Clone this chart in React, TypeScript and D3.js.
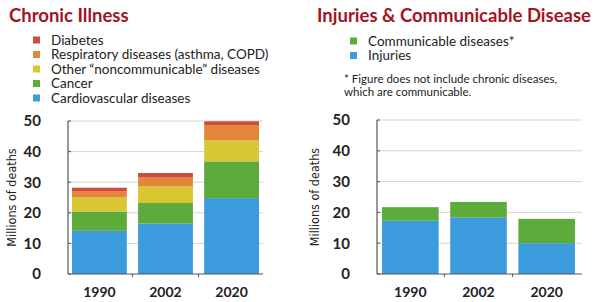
import React from "react";
import * as d3 from "d3";

const years = ["1990", "2002", "2020"];
const yTicks = [0, 10, 20, 30, 40, 50];

// chronic illness (millions of deaths)
const cardiovascular = [14.1, 16.5, 24.8];
const cancer = [6.3, 6.7, 12.0];
const otherNoncommunicable = [4.6, 5.4, 6.9];
const respiratory = [2.1, 2.9, 5.0];
const diabetes = [1.1, 1.5, 1.2];

// injuries & communicable disease
const injuries = [17.3, 18.3, 10.0];
const communicable = [4.4, 5.1, 7.9];

const chronicLabels = [
  "Cardiovascular diseases",
  "Cancer",
  "Other \u201cnoncommunicable\u201d diseases",
  "Respiratory diseases (asthma, COPD)",
  "Diabetes",
];
const injuryLabels = ["Injuries", "Communicable diseases*"];

const BLUE = "#3b9bdc";
const GREEN = "#5dab3b";
const YELLOW = "#d8c632";
const ORANGE = "#e2873a";
const RED = "#d04a40";
const TITLE = "#a3141f";
const FONT = "Lato, 'Open Sans', sans-serif";

type Series = { name: string; values: number[]; color: string };

function Panel(props: {
  series: Series[];
  axisX: number;
  gridEnd: number;
  barRange: [number, number];
  top: number;
  bottom: number;
  titleX: number;
}) {
  const { series, axisX, gridEnd, barRange, top, bottom, titleX } = props;
  const y = d3.scaleLinear().domain([0, 50]).range([bottom, top]);
  const x = d3.scaleBand().domain(years).range(barRange).paddingInner(0.17).paddingOuter(0.03);

  const rows = years.map((yr, i) => {
    const r: any = { year: yr };
    series.forEach((s) => (r[s.name] = s.values[i]));
    return r;
  });
  const stacked = d3.stack<any>().keys(series.map((s) => s.name))(rows);

  return (
    <g>
      {yTicks.map((t) => (
        <g key={t}>
          {t > 0 && (
            <line x1={axisX} x2={gridEnd} y1={y(t)} y2={y(t)} stroke="#d4d4d4" strokeWidth={1} />
          )}
          <line x1={axisX} x2={axisX + 3} y1={y(t)} y2={y(t)} stroke="#555" strokeWidth={1} />
          <text
            x={axisX - 27}
            y={y(t)}
            dy="0.36em"
            textAnchor="end"
            fontFamily={FONT}
            fontWeight={700}
            fontSize={15}
            fill="#222"
          >
            {t}
          </text>
        </g>
      ))}
      {stacked.map((layer, li) => (
        <g key={layer.key} fill={series[li].color}>
          {layer.map((d, i) => (
            <rect
              key={i}
              x={x(years[i])}
              width={x.bandwidth()}
              y={y(d[1])}
              height={y(d[0]) - y(d[1])}
            />
          ))}
        </g>
      ))}
      <line x1={axisX} x2={axisX} y1={y(50)} y2={bottom} stroke="#555" strokeWidth={1.2} />
      <line x1={axisX} x2={gridEnd} y1={bottom} y2={bottom} stroke="#555" strokeWidth={1.2} />
      {years.slice(1).map((yr) => (
        <line
          key={yr}
          x1={(x(yr) as number) - (x.step() - x.bandwidth()) / 2}
          x2={(x(yr) as number) - (x.step() - x.bandwidth()) / 2}
          y1={bottom}
          y2={bottom + 3}
          stroke="#555"
        />
      ))}
      {years.map((yr) => (
        <text
          key={yr}
          x={(x(yr) as number) + x.bandwidth() / 2}
          y={297}
          textAnchor="middle"
          fontFamily={FONT}
          fontWeight={700}
          fontSize={14}
          fill="#222"
        >
          {yr}
        </text>
      ))}
      <text
        transform={`translate(${titleX},${(y(50) + bottom) / 2}) rotate(-90)`}
        textAnchor="middle"
        fontFamily="'DejaVu Sans Condensed', 'Liberation Sans Narrow', sans-serif"
        fontSize={12.5}
        fill="#222"
      >
        Millions of deaths
      </text>
    </g>
  );
}

function Legend(props: { x: number; y: number; items: { label: string; color: string }[] }) {
  return (
    <g>
      {props.items.map((it, i) => (
        <g key={it.label} transform={`translate(${props.x},${props.y + i * 14.5})`}>
          <rect x={0} y={-3.5} width={7} height={7} fill={it.color} />
          <text x={18} y={0} dy="0.35em" fontFamily={FONT} fontSize={13.5} fill="#222">
            {it.label}
          </text>
        </g>
      ))}
    </g>
  );
}

export default function App() {
  const chronic: Series[] = [
    { name: chronicLabels[0], values: cardiovascular, color: BLUE },
    { name: chronicLabels[1], values: cancer, color: GREEN },
    { name: chronicLabels[2], values: otherNoncommunicable, color: YELLOW },
    { name: chronicLabels[3], values: respiratory, color: ORANGE },
    { name: chronicLabels[4], values: diabetes, color: RED },
  ];
  const inj: Series[] = [
    { name: injuryLabels[0], values: injuries, color: BLUE },
    { name: injuryLabels[1], values: communicable, color: GREEN },
  ];

  return (
    <svg
      width={601}
      height={302}
      style={{ position: "absolute", left: 0, top: 0, background: "#fff" }}
    >
      <text x={9} y={22} fontFamily={FONT} fontWeight={700} fontSize={18.5} fill={TITLE}>
        Chronic Illness
      </text>
      <text x={317} y={22} fontFamily={FONT} fontWeight={700} fontSize={18.5} fill={TITLE}>
        Injuries &amp; Communicable Disease
      </text>

      <Legend x={33} y={40} items={[...chronic].reverse().map((s) => ({ label: s.name, color: s.color }))} />
      <Legend x={350} y={41} items={[...inj].reverse().map((s) => ({ label: s.name, color: s.color }))} />
      <text fontFamily={FONT} fontSize={11.5} fill="#222">
        <tspan x={344} y={83}>* Figure does not include chronic diseases,</tspan>
        <tspan x={344} y={96}>which are communicable.</tspan>
      </text>

      <Panel
        series={chronic}
        axisX={68}
        gridEnd={263}
        barRange={[70, 261]}
        top={121}
        bottom={274}
        titleX={16}
      />
      <Panel
        series={inj}
        axisX={377}
        gridEnd={582}
        barRange={[380, 577]}
        top={120}
        bottom={274}
        titleX={319}
      />
    </svg>
  );
}
